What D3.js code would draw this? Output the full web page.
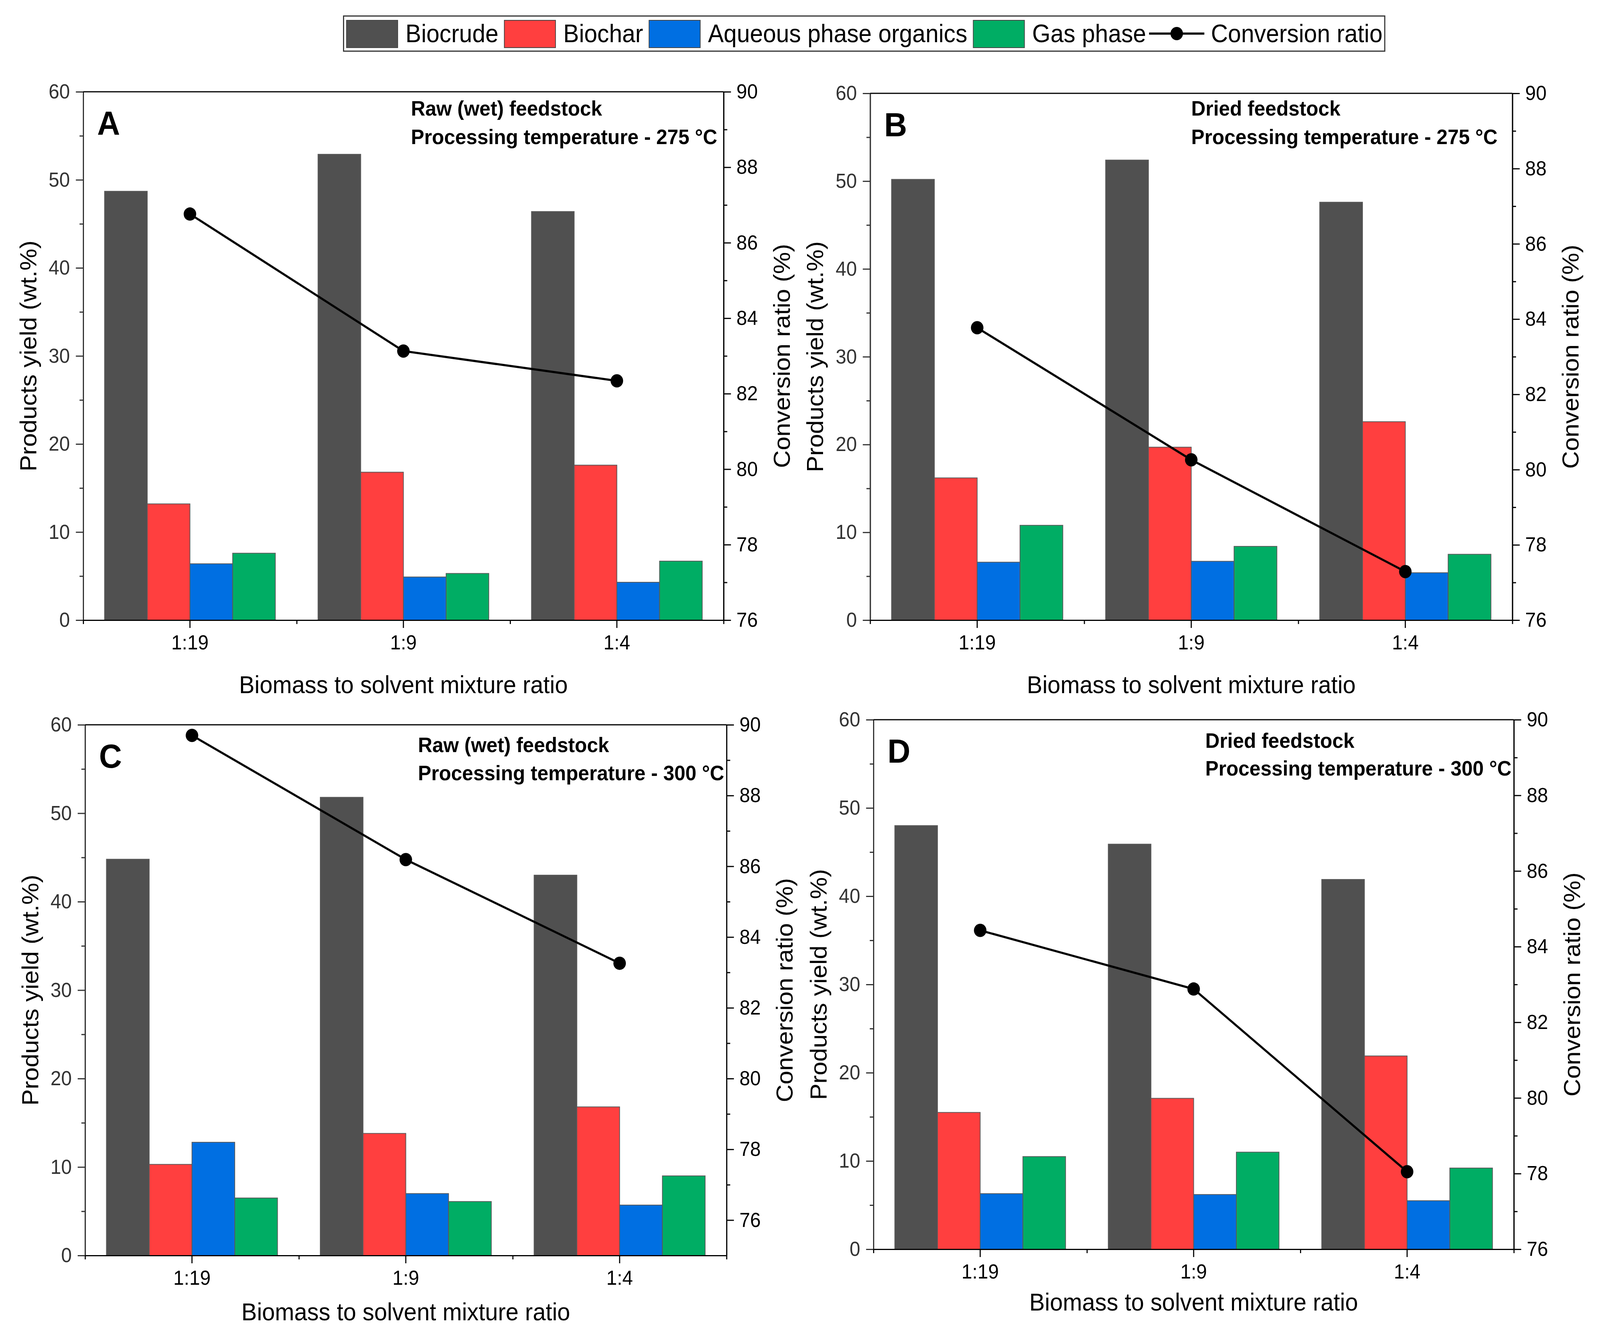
<!DOCTYPE html>
<html lang="en">
<head>
  <meta charset="UTF-8">
  <title>Products yield and conversion ratio</title>
  <style>
    html, body { margin: 0; padding: 0; background: #fff; overflow: hidden; }
    svg { display: block; background: #fff; width: 100vw; height: 100vh; font-family: "Liberation Sans", Arial, sans-serif; }
  </style>
</head>
<body>
  <div id="chart"></div>

  <script src="https://d3js.org/d3.v7.min.js"></script>
  <script>
    // data
    const categories = ["1:19", "1:9", "1:4"];
    const seriesNames = ["Biocrude", "Biochar", "Aqueous phase organics", "Gas phase"];
    const seriesColors = ["#505050", "#ff3f3f", "#006fe2", "#00ad64"];
    const lineName = "Conversion ratio";

    const biocrudeA = [48.7, 52.9, 46.4];
    const biocharA = [13.2, 16.8, 17.6];
    const aqueousA = [6.4, 4.9, 4.3];
    const gasA = [7.6, 5.3, 6.7];
    const conversionA = [86.76, 83.13, 82.34];

    const biocrudeB = [50.2, 52.4, 47.6];
    const biocharB = [16.2, 19.7, 22.6];
    const aqueousB = [6.6, 6.7, 5.4];
    const gasB = [10.8, 8.4, 7.5];
    const conversionB = [83.77, 80.26, 77.29];

    const biocrudeC = [44.8, 51.8, 43.0];
    const biocharC = [10.3, 13.8, 16.8];
    const aqueousC = [12.8, 7.0, 5.7];
    const gasC = [6.5, 6.1, 9.0];
    const conversionC = [89.7, 86.19, 83.26];

    const biocrudeD = [48.0, 45.9, 41.9];
    const biocharD = [15.5, 17.1, 21.9];
    const aqueousD = [6.3, 6.2, 5.5];
    const gasD = [10.5, 11.0, 9.2];
    const conversionD = [84.43, 82.88, 78.05];

    const leftTicks = [0, 10, 20, 30, 40, 50, 60];
    const leftMinorTicks = [5, 15, 25, 35, 45, 55];
    const rightTicks = [76, 78, 80, 82, 84, 86, 88, 90];
    const rightMinorTicks = [77, 79, 81, 83, 85, 87, 89];

    const feedA = "Raw (wet) feedstock", tempA = "Processing temperature - 275 \u00B0C";
    const feedB = "Dried feedstock", tempB = "Processing temperature - 275 \u00B0C";
    const feedC = "Raw (wet) feedstock", tempC = "Processing temperature - 300 \u00B0C";
    const feedD = "Dried feedstock", tempD = "Processing temperature - 300 \u00B0C";

    const xTitle = "Biomass to solvent mixture ratio";
    const yTitle = "Products yield (wt.%)";
    const y2Title = "Conversion ratio (%)";

    // layout
    const width = 4345;
    const height = 3434;
    const font = "'Liberation Sans', Arial, sans-serif";

    const panels = [
      { letter: "A", left: 226, right: 1965, top: 235, bottom: 1588, rightMin: 76,
        series: [biocrudeA, biocharA, aqueousA, gasA], conv: conversionA,
        lines: [feedA, tempA], annoDx: 890, annoDy: [61, 134], titleDy: 187 },
      { letter: "B", left: 2363, right: 4107, top: 239, bottom: 1588, rightMin: 76,
        series: [biocrudeB, biocharB, aqueousB, gasB], conv: conversionB,
        lines: [feedB, tempB], annoDx: 872, annoDy: [57, 130], titleDy: 187 },
      { letter: "C", left: 231, right: 1973, top: 1856, bottom: 3215, rightMin: 75,
        series: [biocrudeC, biocharC, aqueousC, gasC], conv: conversionC,
        lines: [feedC, tempC], annoDx: 904, annoDy: [70, 142], titleDy: 166 },
      { letter: "D", left: 2372, right: 4111, top: 1843, bottom: 3199, rightMin: 76,
        series: [biocrudeD, biocharD, aqueousD, gasD], conv: conversionD,
        lines: [feedD, tempD], annoDx: 901, annoDy: [72, 143], titleDy: 157 }
    ];

    // the drawing is laid out in the 4345 x 3434 frame and stretched to the window
    const svg = d3.select('#chart')
      .append('svg')
      .attr('viewBox', `0 0 ${width} ${height}`)
      .attr('preserveAspectRatio', 'none');

    function styleAxis(g, color) {
      g.selectAll('path, line').attr('stroke', color).attr('stroke-width', 3);
      g.selectAll('text')
        .attr('font-family', font)
        .attr('font-size', 52)
        .attr('fill', color);
    }

    function drawPanel(p) {
      const g = svg.append('g');

      const x0 = d3.scaleBand().domain(categories).range([p.left, p.right]).padding(0);
      const bw = x0.bandwidth();
      const x1 = d3.scaleBand().domain(seriesNames).range([0.1 * bw, 0.9 * bw]).padding(0);
      const y = d3.scaleLinear().domain([0, 60]).range([p.bottom, p.top]);
      const y2 = d3.scaleLinear().domain([p.rightMin, 90]).range([p.bottom, p.top]);

      // bars
      seriesNames.forEach((s, si) => {
        g.append('g')
          .selectAll('rect')
          .data(p.series[si])
          .enter()
          .append('rect')
          .attr('x', (d, i) => x0(categories[i]) + x1(s))
          .attr('y', d => y(d))
          .attr('width', x1.bandwidth())
          .attr('height', d => y(0) - y(d))
          .attr('fill', seriesColors[si])
          .attr('stroke', '#5a5a5a')
          .attr('stroke-width', 2);
      });

      // axes
      const gl = g.append('g').attr('transform', `translate(${p.left},0)`)
        .call(d3.axisLeft(y).tickValues(leftTicks).tickSize(20).tickSizeOuter(0).tickPadding(16));
      styleAxis(gl, '#333');
      const glm = g.append('g').attr('transform', `translate(${p.left},0)`)
        .call(d3.axisLeft(y).tickValues(leftMinorTicks).tickSize(10).tickSizeOuter(0).tickFormat(''));
      styleAxis(glm, '#333');

      const gr = g.append('g').attr('transform', `translate(${p.right},0)`)
        .call(d3.axisRight(y2).tickValues(rightTicks).tickSize(20).tickSizeOuter(0).tickPadding(15));
      styleAxis(gr, '#000');
      const grm = g.append('g').attr('transform', `translate(${p.right},0)`)
        .call(d3.axisRight(y2).tickValues(rightMinorTicks).tickSize(10).tickSizeOuter(0).tickFormat(''));
      styleAxis(grm, '#000');

      const gb = g.append('g').attr('transform', `translate(0,${p.bottom})`)
        .call(d3.axisBottom(x0).tickSize(20).tickSizeOuter(0).tickPadding(18));
      styleAxis(gb, '#000');
      const xm = d3.scaleLinear().domain([0, categories.length]).range([p.left, p.right]);
      const gbm = g.append('g').attr('transform', `translate(0,${p.bottom})`)
        .call(d3.axisBottom(xm).tickValues(d3.range(0, categories.length + 1)).tickSize(10).tickSizeOuter(0).tickFormat(''));
      styleAxis(gbm, '#000');

      g.append('line')
        .attr('x1', p.left).attr('x2', p.right)
        .attr('y1', p.top).attr('y2', p.top)
        .attr('stroke', '#000').attr('stroke-width', 3);

      // conversion ratio line
      const cx = (d, i) => x0(categories[i]) + bw / 2;
      g.append('path')
        .datum(p.conv)
        .attr('fill', 'none')
        .attr('stroke', '#000')
        .attr('stroke-width', 5.5)
        .attr('d', d3.line().x(cx).y(d => y2(d)));
      g.append('g')
        .selectAll('circle')
        .data(p.conv)
        .enter()
        .append('circle')
        .attr('cx', cx)
        .attr('cy', d => y2(d))
        .attr('r', 17)
        .attr('fill', '#000');

      // texts
      g.append('text')
        .attr('x', p.left + 38).attr('y', p.top + 110)
        .attr('font-family', font).attr('font-size', 86).attr('font-weight', 'bold')
        .text(p.letter);

      p.lines.forEach((t, i) => {
        g.append('text')
          .attr('x', p.left + p.annoDx).attr('y', p.top + p.annoDy[i])
          .attr('font-family', font).attr('font-size', 54).attr('font-weight', 'bold')
          .text(t);
      });

      g.append('text')
        .attr('x', (p.left + p.right) / 2).attr('y', p.bottom + p.titleDy)
        .attr('text-anchor', 'middle')
        .attr('font-family', font).attr('font-size', 63)
        .text(xTitle);

      const cy = (p.top + p.bottom) / 2;
      g.append('text')
        .attr('transform', `translate(${p.left - 149},${cy}) rotate(-90)`)
        .attr('text-anchor', 'middle').attr('dominant-baseline', 'central')
        .attr('font-family', font).attr('font-size', 63)
        .text(yTitle);
      g.append('text')
        .attr('transform', `translate(${p.right + 158},${cy}) rotate(-90)`)
        .attr('text-anchor', 'middle').attr('dominant-baseline', 'central')
        .attr('font-family', font).attr('font-size', 63)
        .text(y2Title);
    }

    panels.forEach(drawPanel);

    // legend
    const legend = svg.append('g');
    const legX = 933, legY = 41, legH = 90;
    const box = legend.append('rect')
      .attr('x', legX).attr('y', legY)
      .attr('height', legH)
      .attr('fill', '#fff')
      .attr('stroke', '#333')
      .attr('stroke-width', 3);

    let cursor = legX + 8;
    seriesNames.forEach((s, i) => {
      legend.append('rect')
        .attr('x', cursor).attr('y', legY + 11)
        .attr('width', 139).attr('height', 70)
        .attr('fill', seriesColors[i])
        .attr('stroke', '#444').attr('stroke-width', 2);
      const t = legend.append('text')
        .attr('x', cursor + 160).attr('y', legY + legH / 2)
        .attr('dominant-baseline', 'central')
        .attr('font-family', font).attr('font-size', 64)
        .text(s);
      cursor = cursor + 160 + t.node().getComputedTextLength() + 16;
    });
    legend.append('line')
      .attr('x1', cursor - 8).attr('x2', cursor + 142)
      .attr('y1', legY + legH / 2).attr('y2', legY + legH / 2)
      .attr('stroke', '#000').attr('stroke-width', 5.5);
    legend.append('circle')
      .attr('cx', cursor + 67).attr('cy', legY + legH / 2)
      .attr('r', 17).attr('fill', '#000');
    const lt = legend.append('text')
      .attr('x', cursor + 160).attr('y', legY + legH / 2)
      .attr('dominant-baseline', 'central')
      .attr('font-family', font).attr('font-size', 64)
      .text(lineName);
    cursor = cursor + 160 + lt.node().getComputedTextLength() + 6;
    box.attr('width', cursor - legX);
  </script>
</body>
</html>
